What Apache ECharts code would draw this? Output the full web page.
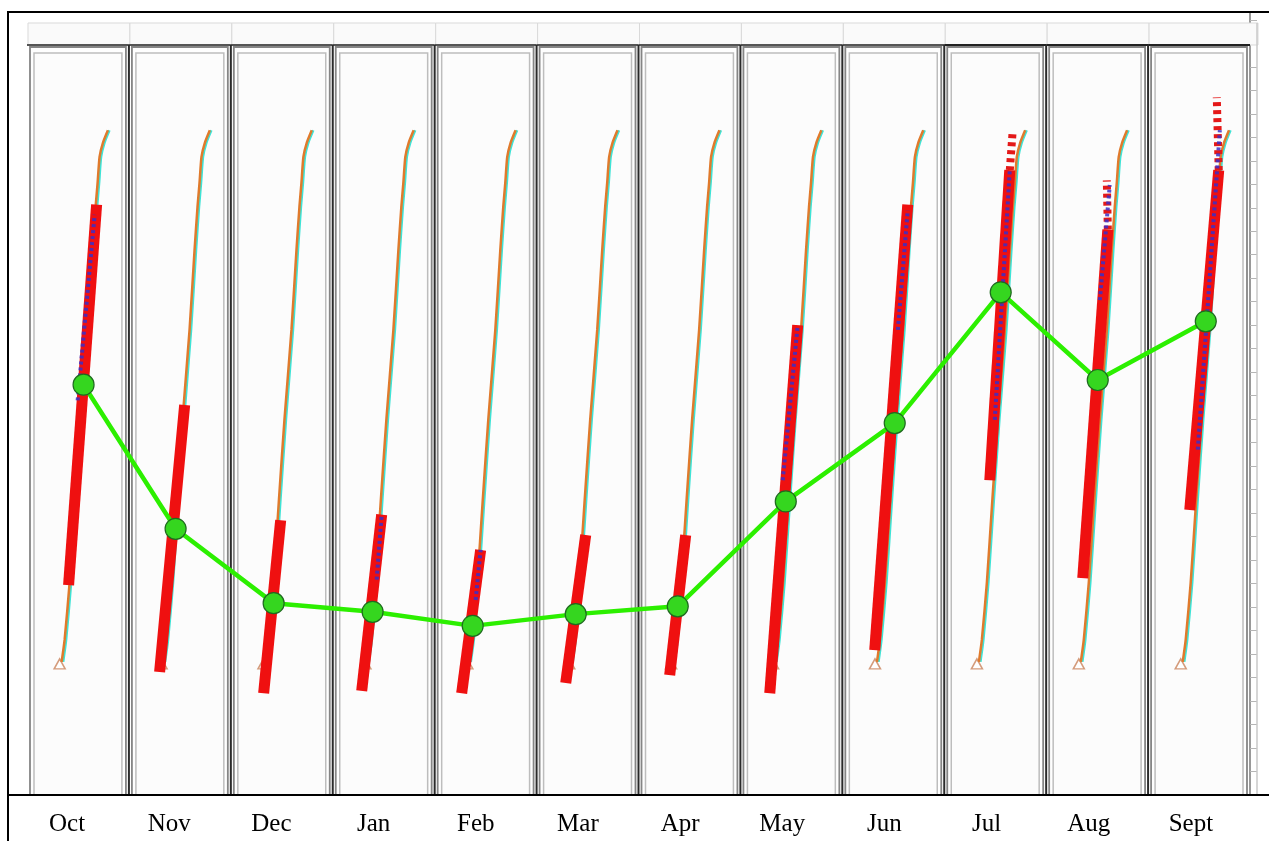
<!DOCTYPE html>
<html>
<head>
<meta charset="utf-8">
<script src="https://cdn.jsdelivr.net/npm/echarts@6/dist/echarts.min.js"></script>
<style>
  html, body { margin: 0; padding: 0; background: #ffffff; }
  #chart { width: 1269px; height: 841px; }
</style>
</head>
<body>
<div id="chart"></div>
<script>
// Monthly panels, Oct through Sept
const months = ['Oct', 'Nov', 'Dec', 'Jan', 'Feb', 'Mar', 'Apr', 'May', 'Jun', 'Jul', 'Aug', 'Sept'];

// Reference profile repeated in every panel: [position within panel (0..1), value]
const profile = [
  [0.340, 17.0], [0.369, 19.8], [0.418, 27.1], [0.472, 37.7], [0.526, 47.9], [0.595, 59.4],
  [0.644, 69.6], [0.673, 75.1], [0.693, 78.2], [0.712, 81.5], [0.745, 83.3], [0.794, 84.9]
];

// Observed band for each month: lower and upper end [position within panel, value]
const bandLow = [
  [0.408, 26.8], [0.301, 15.7], [0.322, 13.0], [0.284, 13.3], [0.265, 13.0], [0.286, 14.3],
  [0.306, 15.3], [0.288, 13.0], [0.318, 18.5], [0.447, 40.2], [0.359, 27.7], [0.409, 36.4]
];
const bandHigh = [
  [0.683, 75.4], [0.547, 49.8], [0.489, 35.1], [0.480, 35.8], [0.451, 31.3], [0.482, 33.2],
  [0.463, 33.2], [0.562, 60.0], [0.642, 75.4], [0.643, 79.8], [0.605, 72.2], [0.693, 79.8]
];
// Sparse (open-square) continuation above the band, where present
const bandCap = [
  null, null, null, null, null, null, null, null, null, [0.672, 84.9], [0.595, 78.5], [0.674, 89.1]
];

// Second observation set mixed into the band: lower and upper end, where present
const blueLow = [
  [0.497, 50.4], null, null, [0.431, 27.5], [0.402, 24.9], null,
  null, [0.415, 40.2], [0.545, 59.4], [0.496, 47.9], [0.527, 63.2], [0.488, 44.1]
];
const blueHigh = [
  [0.664, 74.1], null, null, [0.480, 35.8], [0.451, 31.3], null,
  null, [0.562, 60.0], [0.642, 74.7], [0.643, 79.8], [0.624, 77.9], [0.704, 84.9]
];

// Monthly mean: position within panel and value
const meanPos = [0.555, 0.458, 0.420, 0.391, 0.373, 0.384, 0.385, 0.445, 0.514, 0.554, 0.506, 0.566];
const meanVal = [52.4, 34.0, 24.5, 23.4, 21.6, 23.1, 24.1, 37.5, 47.5, 64.2, 53.0, 60.5];

const chart = echarts.init(document.getElementById('chart'), null, { renderer: 'canvas' });

const at = (i, p) => [i + p[0], p[1]];
const series = [];

// Panel frames and header cells
series.push({
  type: 'custom',
  z: 1,
  silent: true,
  xAxisIndex: 0,
  yAxisIndex: 0,
  data: months.map((m, i) => [i]),
  renderItem(params, api) {
    const i = api.value(0);
    const tl = api.coord([i, 100]);
    const br = api.coord([i + 1, 0]);
    const x0 = tl[0], x1 = br[0], top = tl[1], yb = br[1];
    const hTop = top + 11, hBot = top + 33, pTop = top + 35;
    const last = i === months.length - 1;
    const children = [
      { type: 'rect', shape: { x: x0 + 1, y: hTop, width: x1 - x0 + (last ? 7 : 0), height: hBot - hTop },
        style: { fill: '#fafafa', stroke: '#d9d9d9', lineWidth: 1 } },
      { type: 'rect', shape: { x: x0 + 3, y: pTop, width: x1 - x0 - 6, height: yb - pTop },
        style: { fill: '#fefefe', stroke: '#858585', lineWidth: 1.8 } },
      { type: 'rect', shape: { x: x0 + 7, y: pTop + 6, width: x1 - x0 - 14, height: yb - pTop - 6 },
        style: { fill: '#fcfcfc', stroke: '#bdbdbd', lineWidth: 1.5 } },
      { type: 'line', shape: { x1: x0, y1: hBot, x2: x1, y2: hBot },
        style: { stroke: i >= 9 ? '#222' : '#555', lineWidth: 2 } }
    ];
    if (i > 0) {
      children.push({ type: 'line', shape: { x1: x0, y1: hBot, x2: x0, y2: yb },
        style: { stroke: '#2a2a2a', lineWidth: 2 } });
    }
    return { type: 'group', children };
  }
});

// start-of-profile markers (drawn beneath the observed bands)
series.push({
  type: 'scatter', z: 2, silent: true,
  data: months.map((m, i) => at(i, profile[0])),
  symbol: 'triangle', symbolSize: [11, 10], symbolOffset: [-2, 2],
  itemStyle: { color: '#ffffff', borderColor: '#c9825a', borderWidth: 1.5 }
});

months.forEach((m, i) => {
  // reference profile with its cyan edge
  series.push({
    type: 'line', z: 3, silent: true,
    data: profile.map(p => at(i, p)),
    symbol: 'none', smooth: 0.2,
    lineStyle: { color: '#e07a2c', width: 2.5, shadowColor: '#3fe3d6', shadowOffsetX: 1.5, shadowBlur: 0 }
  });
  // observed band
  series.push({
    type: 'line', z: 4, silent: true,
    data: [at(i, bandLow[i]), at(i, bandHigh[i])],
    symbol: 'none',
    lineStyle: { color: '#ef1010', width: 11, cap: 'butt' }
  });
  if (bandCap[i]) {
    series.push({
      type: 'line', z: 4, silent: true,
      data: [at(i, bandHigh[i]), at(i, bandCap[i])],
      symbol: 'none',
      lineStyle: { color: '#e41818', width: 8, type: [4, 4], cap: 'butt' }
    });
  }
  if (blueLow[i]) {
    series.push({
      type: 'line', z: 5, silent: true,
      data: [at(i, blueLow[i]), at(i, blueHigh[i])],
      symbol: 'none',
      lineStyle: { color: '#3a2fc8', width: 4, type: [3, 3], opacity: 0.85 }
    });
  }
});

// monthly means
series.push({
  type: 'line', z: 10, silent: true,
  data: months.map((m, i) => [i + meanPos[i], meanVal[i]]),
  symbol: 'circle', symbolSize: 21,
  lineStyle: { color: '#2cef00', width: 4.5 },
  itemStyle: { color: '#35d61f', borderColor: '#1f6a1f', borderWidth: 1.2 }
});

chart.setOption({
  animation: false,
  backgroundColor: '#ffffff',
  grid: [
    { left: 27, right: 19, top: 12, bottom: 46 },
    { left: 16, right: 27, top: 12, bottom: 46 }
  ],
  xAxis: [
    { gridIndex: 0, type: 'value', min: 0, max: 12, show: false },
    {
      gridIndex: 1, type: 'category', data: months, position: 'bottom',
      axisLine: { show: false }, axisTick: { show: false },
      axisLabel: { color: '#000', fontFamily: 'Liberation Serif', fontSize: 25, margin: 17 }
    }
  ],
  yAxis: [
    {
      gridIndex: 0, type: 'value', min: 0, max: 100, interval: 3, position: 'right',
      axisLine: { show: true, onZero: false, lineStyle: { color: '#777', width: 1.5 } },
      axisTick: { show: true, length: 7, lineStyle: { color: '#b5b5b5' } },
      axisLabel: { show: false }, splitLine: { show: false }
    },
    { gridIndex: 1, type: 'value', show: false }
  ],
  graphic: [
    { type: 'line', z: 100, shape: { x1: 1257, y1: 23, x2: 1257, y2: 795 }, style: { stroke: '#c8c8c8', lineWidth: 1.5 } },
    { type: 'line', z: 100, shape: { x1: 7, y1: 12, x2: 1269, y2: 12 }, style: { stroke: '#000', lineWidth: 2 } },
    { type: 'line', z: 100, shape: { x1: 8, y1: 11, x2: 8, y2: 841 }, style: { stroke: '#000', lineWidth: 2 } },
    { type: 'line', z: 100, shape: { x1: 7, y1: 795, x2: 1269, y2: 795 }, style: { stroke: '#000', lineWidth: 2 } }
  ],
  series
});
</script>
</body>
</html>
